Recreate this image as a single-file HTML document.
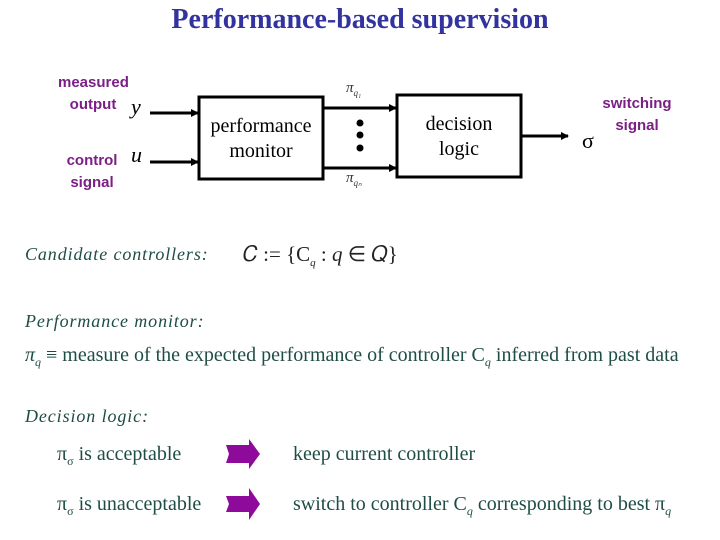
<!DOCTYPE html>
<html><head><meta charset="utf-8"><style>
body{margin:0;width:720px;height:540px;background:#fff;position:relative;overflow:hidden;font-family:"Liberation Serif",serif}
.t{position:absolute;white-space:nowrap}
.p{color:#7b1f86;font-family:"Liberation Sans",sans-serif;font-weight:bold;font-size:15px;text-align:center;line-height:22px}
.g{color:#1e4d45;font-size:20px}
.i{color:#1e4d45;font-size:18px;font-style:italic;letter-spacing:0.9px}
</style></head><body>
<div class="t" style="left:0;width:720px;text-align:center;top:4px;font-size:28px;font-weight:bold;color:#3333a0">Performance-based supervision</div>
<div class="t p" style="left:58px;width:70px;top:72px">measured<br>output</div>
<div class="t p" style="left:57px;width:70px;top:150px">control<br>signal</div>
<div class="t p" style="left:590px;width:94px;top:93px">switching<br>signal</div>
<svg width="720" height="540" style="position:absolute;left:0;top:0">
<defs><marker id="a" markerWidth="8" markerHeight="8" refX="7" refY="4" orient="auto" markerUnits="userSpaceOnUse"><path d="M0,0 L8,4 L0,8z" fill="#000"/></marker></defs>
<g stroke="#000" stroke-width="3" fill="none">
<rect x="199" y="97" width="124" height="82"/>
<rect x="397" y="95" width="124" height="82"/>
<line x1="150" y1="113" x2="198" y2="113" marker-end="url(#a)"/>
<line x1="150" y1="162" x2="198" y2="162" marker-end="url(#a)"/>
<line x1="324" y1="108" x2="396" y2="108" marker-end="url(#a)"/>
<line x1="324" y1="168" x2="396" y2="168" marker-end="url(#a)"/>
<line x1="522" y1="136" x2="568" y2="136" marker-end="url(#a)"/>
</g>
<circle cx="360" cy="123" r="3.5"/><circle cx="360" cy="135" r="3.5"/><circle cx="360" cy="148" r="3.5"/>
<path d="M226,445 L249,445 L249,439 L260,454 L249,469 L249,463 L226,463 L229,454z" fill="#8e0a9a"/>
<path d="M226,496 L249,496 L249,488 L260,504 L249,520 L249,512 L226,512 L229,504z" fill="#8e0a9a"/>
</svg>
<div class="t" style="left:131px;top:94px;font-size:22px;font-style:italic">y</div>
<div class="t" style="left:131px;top:142px;font-size:22px;font-style:italic">u</div>
<div class="t" style="left:199px;width:124px;text-align:center;top:114px;font-size:20px;line-height:25px">performance<br>monitor</div>
<div class="t" style="left:397px;width:124px;text-align:center;top:112px;font-size:20px;line-height:25px">decision<br>logic</div>
<div class="t" style="left:346px;top:80px;font-size:15px;font-style:italic;color:#333">π<sub style="font-size:9px">q₁</sub></div>
<div class="t" style="left:346px;top:170px;font-size:15px;font-style:italic;color:#333">π<sub style="font-size:9px">qₙ</sub></div>
<div class="t" style="left:582px;top:128px;font-size:22px">σ</div>
<div class="t i" style="left:25px;top:244px">Candidate controllers:</div>
<div class="t" style="left:243px;top:242px;font-size:21px;color:#222">𝐶 := {C<sub style="font-size:11px;font-style:italic">q</sub> : <i>q</i> ∈ 𝑄}</div>
<div class="t i" style="left:25px;top:311px">Performance monitor:</div>
<div class="t g" style="left:25px;top:344px"><i>π<sub style="font-size:12px">q</sub></i> ≡ measure of the expected performance of controller C<sub style="font-size:12px"><i>q</i></sub> inferred from past data</div>
<div class="t i" style="left:25px;top:406px">Decision logic:</div>
<div class="t g" style="left:57px;top:443px">π<sub style="font-size:12px">σ</sub> is acceptable</div>
<div class="t g" style="left:293px;top:443px">keep current controller</div>
<div class="t g" style="left:57px;top:493px">π<sub style="font-size:12px">σ</sub> is unacceptable</div>
<div class="t g" style="left:293px;top:493px">switch to controller C<sub style="font-size:12px"><i>q</i></sub> corresponding to best π<sub style="font-size:12px"><i>q</i></sub></div>
</body></html>
